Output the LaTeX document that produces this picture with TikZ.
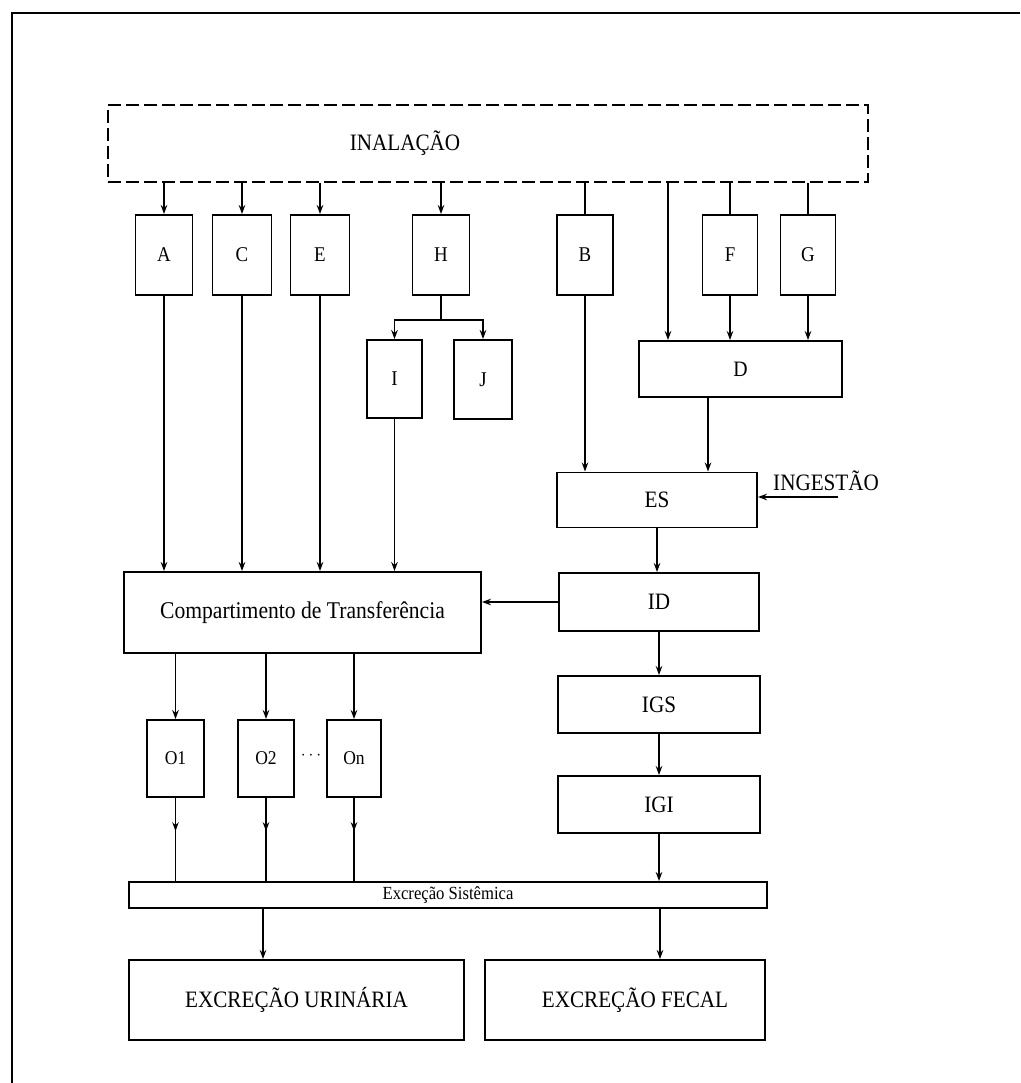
\documentclass[tikz,border=0pt]{standalone}
\usepackage{fontspec}
\setmainfont{Liberation Serif}[FakeStretch=0.9]
\usetikzlibrary{arrows.meta,decorations.markings,calc}
\begin{document}
\begin{tikzpicture}[x=1pt,y=-1pt,
  bx/.style={draw, line width=1.9pt, inner sep=0pt, font=\fontsize{23.5}{26}\selectfont},
  sbx/.style={bx, minimum width=57pt, minimum height=80pt, font=\fontsize{21}{24}\selectfont},
  obx/.style={bx, minimum height=77pt, font=\fontsize{19.5}{22}\selectfont},
  lbl/.style={inner sep=0pt, font=\fontsize{23.5}{26}\selectfont},
  arr/.style={line width=1.5pt, -{Stealth[length=9pt,width=6.5pt]}},
  ln/.style={line width=1.5pt},
  midarr/.style={line width=1.5pt, postaction={decorate},
    decoration={markings, mark=at position 0.4 with {\arrow{Stealth[length=9pt,width=6.5pt]}}}},
]
\useasboundingbox (0,0) rectangle (1020,1083);
% frame
\draw[line width=2.2pt] (1020,13) -- (12,13) -- (12,1083);

% inhalation box
\node[draw, line width=2pt, dash pattern=on 13pt off 5pt, minimum width=760pt, minimum height=77pt, inner sep=0pt] (inal) at (488,143.5) {};
\node[lbl] (inallbl) at (405,143) {INALAÇÃO};

% first row
\node[sbx] (A) at (164,255) {A};
\node[sbx, minimum width=59pt] (C) at (242,255) {C};
\node[sbx, minimum width=59pt] (E) at (320,255) {E};
\node[sbx] (H) at (441,255) {H};
\node[sbx, minimum width=56pt] (B) at (585,255) {B};
\node[sbx, minimum width=55pt] (F) at (730,255) {F};
\node[sbx, minimum width=55pt] (G) at (808,255) {G};

% I, J, D
\node[sbx, minimum width=55pt, minimum height=78pt] (I) at (394.5,379) {I};
\node[sbx, minimum width=58pt, minimum height=79pt] (J) at (483,379.5) {J};
\node[bx, minimum width=203pt, minimum height=56pt, font=\fontsize{22}{24}\selectfont] (D) at (740.5,369) {D};

% GI tract
\node[bx, minimum width=200pt, minimum height=55pt] (ES) at (657,500) {ES};
\node[bx, minimum width=200pt, minimum height=58pt] (ID) at (659,602) {ID};
\node[bx, minimum width=202pt, minimum height=57pt] (IGS) at (659,704.5) {IGS};
\node[bx, minimum width=202pt, minimum height=57pt] (IGI) at (659,804.5) {IGI};
\node[lbl, anchor=west] (ing) at (773,481) {INGESTÃO};
\coordinate (ingstart) at (838,497);

% transfer compartment
\node[bx, minimum width=357pt, minimum height=81pt, font=\fontsize{24}{26}\selectfont] (Comp) at (302.5,612.5) {Compartimento de Transferência};

% organs
\node[obx, minimum width=57pt] (O1) at (175.5,758.5) {O1};
\node[obx, minimum width=56pt] (O2) at (266,758.5) {O2};
\node[obx, minimum width=54pt] (On) at (354,758.5) {On};
\node[inner sep=0pt, font=\fontsize{16}{18}\selectfont] (dots) at (311,756) {$\cdots$};

% systemic excretion bar
\node[bx, minimum width=638pt, minimum height=26pt, font=\fontsize{18.5}{20}\selectfont] (bar) at (448,895) {Excreção Sistêmica};

% excretion boxes
\node[bx, minimum width=335pt, minimum height=80pt] (Uri) at (296.5,1000) {EXCREÇÃO URINÁRIA};
\node[bx, minimum width=280pt, minimum height=80pt] (Fec) at (625,1000) {\hspace*{20pt}EXCREÇÃO FECAL};

% connectors from inhalation
\foreach \n in {A,C,E,H}{
  \draw[arr] (\n.north |- inal.south) -- (\n.north);
}
\foreach \n in {B,F,G}{
  \draw[ln] (\n.north |- inal.south) -- (\n.north);
}
\coordinate (dtap) at ([xshift=-72.5pt]D.north);
\draw[arr] (dtap |- inal.south) -- (dtap);
\draw[arr] (F.south) -- (F.south |- D.north);
\draw[arr] (G.south) -- (G.south |- D.north);

% A C E I -> Comp
\foreach \n in {A,C,E,I}{
  \draw[arr] (\n.south) -- (\n.south |- Comp.north);
}
% H split
\coordinate (hsplit) at (441,320);
\draw[ln] (H.south) -- (hsplit);
\draw[arr] (hsplit) -| (I.north);
\draw[arr] (hsplit) -| (J.north);

% B, D -> ES
\draw[arr] (B.south) -- (B.south |- ES.north);
\coordinate (dout) at ([xshift=-32.5pt]D.south);
\draw[arr] (dout) -- (dout |- ES.north);
\draw[arr] (ingstart) -- (ingstart -| ES.east);

% GI chain
\draw[arr] (ES.south) -- (ES.south |- ID.north);
\draw[arr] (ID.west) -- (ID.west -| Comp.east);
\draw[arr] (ID.south) -- (IGS.north);
\draw[arr] (IGS.south) -- (IGI.north);
\draw[arr] (IGI.south) -- (IGI.south |- bar.north);

% Comp -> organs -> bar
\foreach \n in {O1,O2,On}{
  \draw[arr] (\n.north |- Comp.south) -- (\n.north);
  \draw[midarr] (\n.south) -- (\n.south |- bar.north);
}

% bar -> excretion
\coordinate (uin) at ([xshift=-33.5pt]Uri.north);
\coordinate (fin) at ([xshift=35pt]Fec.north);
\draw[arr] (uin |- bar.south) -- (uin);
\draw[arr] (fin |- bar.south) -- (fin);
\end{tikzpicture}
\end{document}
